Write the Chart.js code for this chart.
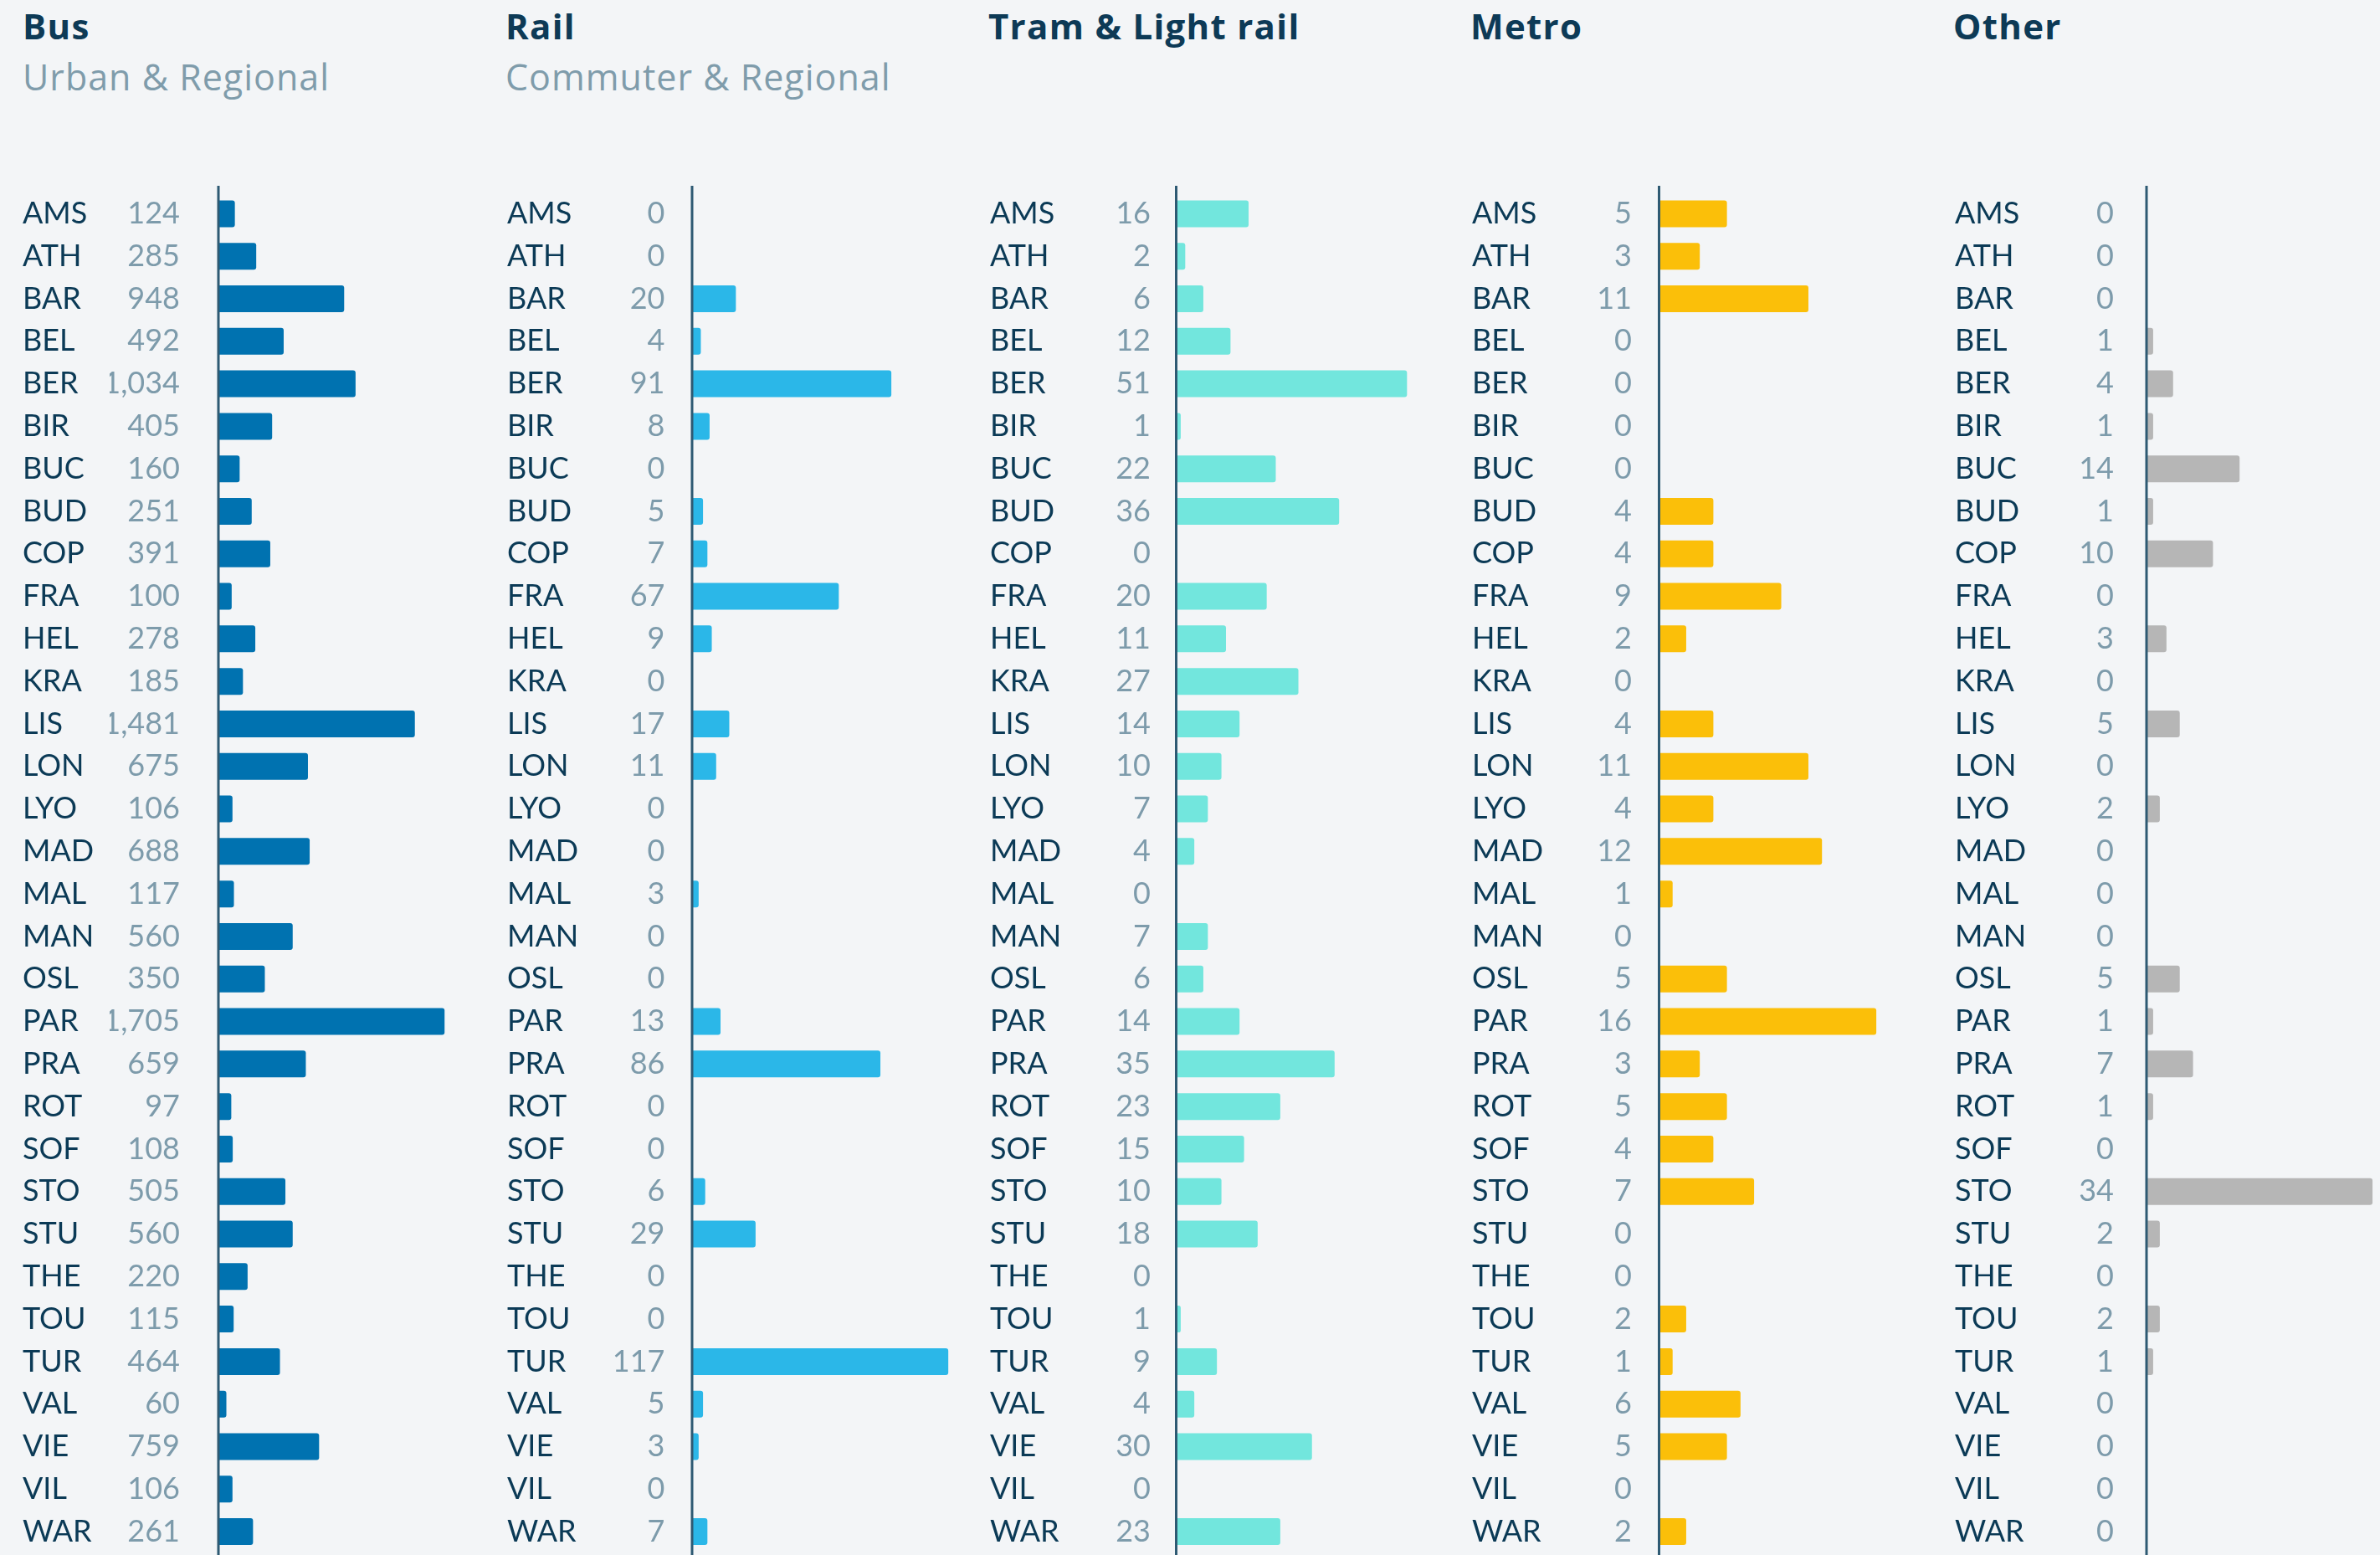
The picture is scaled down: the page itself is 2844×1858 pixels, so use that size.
<!DOCTYPE html>
<html>
<head>
<meta charset="utf-8">
<script src="https://cdn.jsdelivr.net/npm/chart.js@4.4.1/dist/chart.umd.min.js"></script>
<style>
  html, body { margin: 0; padding: 0; background: #f3f5f7; }
  #stage { position: relative; width: 2844px; height: 1858px; overflow: hidden; background: #f3f5f7; }
  .title { position: absolute; top: 10px; font: 700 42px "Open Sans", sans-serif; line-height: 42px; letter-spacing: 1.3px; color: #0d3a56; white-space: nowrap; }
  .sub { position: absolute; top: 70px; font: 400 43px "Open Sans", sans-serif; line-height: 43px; letter-spacing: 1px; color: #7f9cab; white-space: nowrap; }
  canvas { position: absolute; top: 200px; }
</style>
</head>
<body>
<div id="stage">
  <div class="title" style="left:27px">Bus</div>
  <div class="sub" style="left:27px">Urban &amp; Regional</div>
  <div class="title" style="left:604px">Rail</div>
  <div class="sub" style="left:604px">Commuter &amp; Regional</div>
  <div class="title" style="left:1181px">Tram &amp; Light rail</div>
  <div class="title" style="left:1757px">Metro</div>
  <div class="title" style="left:2334px">Other</div>
  <canvas id="c0"></canvas>
  <canvas id="c1"></canvas>
  <canvas id="c2"></canvas>
  <canvas id="c3"></canvas>
  <canvas id="c4"></canvas>
</div>
<script>
const cities = ["AMS","ATH","BAR","BEL","BER","BIR","BUC","BUD","COP","FRA","HEL","KRA","LIS","LON","LYO","MAD","MAL","MAN","OSL","PAR","PRA","ROT","SOF","STO","STU","THE","TOU","TUR","VAL","VIE","VIL","WAR"];
const bus   = [124,285,948,492,1034,405,160,251,391,100,278,185,1481,675,106,688,117,560,350,1705,659,97,108,505,560,220,115,464,60,759,106,261];
const rail  = [0,0,20,4,91,8,0,5,7,67,9,0,17,11,0,0,3,0,0,13,86,0,0,6,29,0,0,117,5,3,0,7];
const tram  = [16,2,6,12,51,1,22,36,0,20,11,27,14,10,7,4,0,7,6,14,35,23,15,10,18,0,1,9,4,30,0,23];
const metro = [5,3,11,0,0,0,0,4,4,9,2,0,4,11,4,12,1,0,5,16,3,5,4,7,0,0,2,1,6,5,0,2];
const other = [0,0,0,1,4,1,14,1,10,0,3,0,5,0,2,0,0,0,5,1,7,1,0,34,2,0,2,1,0,0,0,0];

const CODE_COLOR = '#0b3a56';
const VAL_COLOR = '#7d9bab';
const FONT = { family: 'Lato', size: 36, weight: '400' };

const axisLine = {
  id: 'axisLine',
  afterDatasetsDraw(chart, args, opts) {
    const { ctx, chartArea, scales } = chart;
    const x = scales.x.getPixelForValue(0);
    ctx.save();
    ctx.strokeStyle = opts.color;
    ctx.lineWidth = opts.width;
    ctx.beginPath();
    ctx.moveTo(x, chartArea.top - opts.extendTop);
    ctx.lineTo(x, chart.height);
    ctx.stroke();
    ctx.restore();
  }
};

// panel layout (pixels on the page)
const panels = [
  { id: 'c0', data: bus,   color: '#0072b0', left: 27,   axisX: 261,    valRight: 215,  max: 2000, pxPerUnit: 0.1585 },
  { id: 'c1', data: rail,  color: '#2bb7e8', left: 606,  axisX: 827,    valRight: 794.5, max: 120, pxPerUnit: 2.615 },
  { id: 'c2', data: tram,  color: '#72e6dd', left: 1183, axisX: 1405.5, valRight: 1375, max: 60,  pxPerUnit: 5.41 },
  { id: 'c3', data: metro, color: '#fbbf09', left: 1759, axisX: 1982.5, valRight: 1950, max: 20,  pxPerUnit: 16.2 },
  { id: 'c4', data: other, color: '#b6b6b6', left: 2336, axisX: 2565,   valRight: 2526, max: 35,  pxPerUnit: 7.95 }
];

const CANVAS_TOP = 200, CANVAS_H = 1658;
const PAD_TOP = 30, PAD_BOTTOM = 2.5;
const VAL_W = 130;

function noPad(s) { s.paddingTop = 0; s.paddingBottom = 0; }

panels.forEach(p => {
  const cv = document.getElementById(p.id);
  const leftW = p.axisX - p.left;
  const width = Math.round(leftW + p.max * p.pxPerUnit);
  cv.width = width; cv.height = CANVAS_H;
  cv.style.left = p.left + 'px';
  cv.style.width = width + 'px'; cv.style.height = CANVAS_H + 'px';
  const valueLabels = p.data.map(v => v.toLocaleString('en-US'));
  new Chart(cv, {
    type: 'bar',
    data: {
      labels: cities,
      datasets: [{
        data: p.data,
        backgroundColor: p.color,
        borderWidth: 0,
        borderRadius: 3,
        borderSkipped: 'start',
        barPercentage: 0.63,
        categoryPercentage: 1.0
      }]
    },
    options: {
      indexAxis: 'y',
      responsive: false,
      animation: false,
      devicePixelRatio: 1,
      layout: { padding: { top: PAD_TOP, bottom: PAD_BOTTOM, left: 0, right: 0 } },
      plugins: {
        legend: { display: false },
        tooltip: { enabled: false },
        title: { display: false },
        axisLine: { color: '#2e5a73', width: 3, extendTop: 8 }
      },
      scales: {
        x: { type: 'linear', min: 0, max: p.max, display: false },
        y: {
          type: 'category', position: 'left', weight: 2, offset: true,
          grid: { display: false, drawTicks: false }, border: { display: false },
          ticks: { crossAlign: 'far', padding: 0, color: CODE_COLOR, font: FONT, autoSkip: false },
          afterFit(s) { s.width = leftW - VAL_W; noPad(s); }
        },
        yv: {
          type: 'category', position: 'left', weight: 1, offset: true, labels: valueLabels,
          grid: { display: false, drawTicks: false }, border: { display: false },
          ticks: { crossAlign: 'near', padding: p.axisX - p.valRight, color: VAL_COLOR, font: FONT, autoSkip: false },
          afterFit(s) { s.width = VAL_W; noPad(s); }
        }
      }
    },
    plugins: [axisLine]
  });
});
</script>
</body>
</html>
